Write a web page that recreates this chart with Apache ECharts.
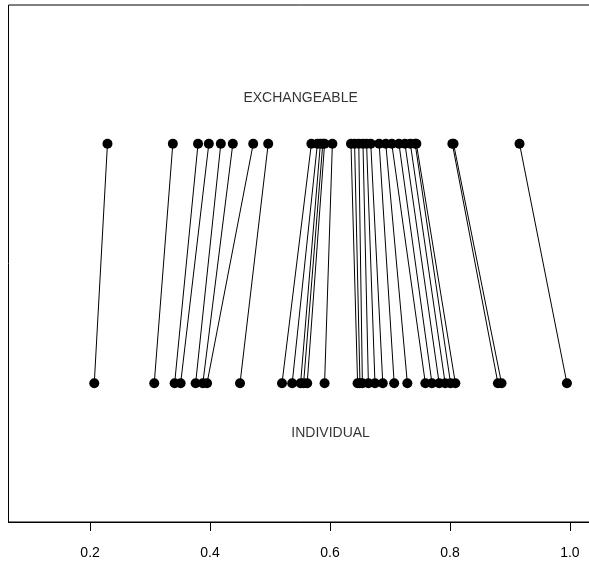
<!DOCTYPE html>
<html><head><meta charset="utf-8">
<script src="https://cdn.jsdelivr.net/npm/echarts@6/dist/echarts.min.js"></script>
<style>html,body{margin:0;padding:0;background:#fff}#c{width:589px;height:565px}</style>
</head><body><div id="c"></div>
<script>
// Exchangeable estimates (top row) and individual estimates (bottom row), paired by index
const exchangeable = [0.229,0.338,0.380,0.398,0.418,0.438,0.472,0.497,
  0.569,0.579,0.584,0.588,0.591,0.604,
  0.635,0.641,0.648,0.655,0.661,0.668,0.682,0.693,0.703,0.715,0.725,0.734,0.742,0.744,
  0.804,0.806,0.916];
const individual = [0.207,0.307,0.341,0.351,0.376,0.388,0.395,0.450,
  0.520,0.537,0.551,0.556,0.562,0.591,
  0.646,0.650,0.654,0.664,0.675,0.688,0.707,0.729,0.759,0.770,0.782,0.792,0.801,0.809,
  0.880,0.886,0.995];
const rowY = {exchangeable: 0.75, individual: 0.25};
const xTicks = [0.2, 0.4, 0.6, 0.8, 1.0];
const rowLabels = [{text:'EXCHANGEABLE', x:0.551, y:0.845},{text:'INDIVIDUAL', x:0.601, y:0.146}];

const chart = echarts.init(document.getElementById('c'), null, {renderer:'canvas'});
const font = 'Liberation Sans, Arial, Helvetica, sans-serif';
const pts = [];
exchangeable.forEach(v => pts.push([v, rowY.exchangeable]));
individual.forEach(v => pts.push([v, rowY.individual]));
chart.setOption({
  animation:false,
  backgroundColor:'#fff',
  grid:{left:8.5, top:5, width:583, height:517, show:true, borderColor:'#000', borderWidth:1,
    containLabel:false, outerBoundsMode:'none'},
  xAxis:{type:'value', min:0.064, max:1.036,
    axisLine:{show:true, onZero:false, lineStyle:{color:'#000', width:1}},
    axisTick:{show:true, customValues:xTicks, length:9, inside:false, lineStyle:{color:'#000'}},
    axisLabel:{show:true, customValues:xTicks, margin:24, color:'#000', fontSize:14, fontFamily:font,
      formatter:v=>v.toFixed(1)},
    splitLine:{show:false}},
  yAxis:{type:'value', min:-0.04, max:1.04, show:false, splitLine:{show:false}},
  series:[
    {type:'lines', coordinateSystem:'cartesian2d', silent:true,
      lineStyle:{color:'#000', width:1, opacity:1},
      data: exchangeable.map((v,i)=>({coords:[[v,rowY.exchangeable],[individual[i],rowY.individual]]}))},
    {type:'scatter', symbol:'circle', symbolSize:10, itemStyle:{color:'#000', opacity:1}, data:pts, z:3},
    {type:'scatter', symbolSize:0, data: rowLabels.map(r=>({value:[r.x,r.y], name:r.text})),
      label:{show:true, position:'inside', formatter:p=>p.name, color:'#000', fontSize:14, fontFamily:font}}
  ]
});
</script></body></html>
